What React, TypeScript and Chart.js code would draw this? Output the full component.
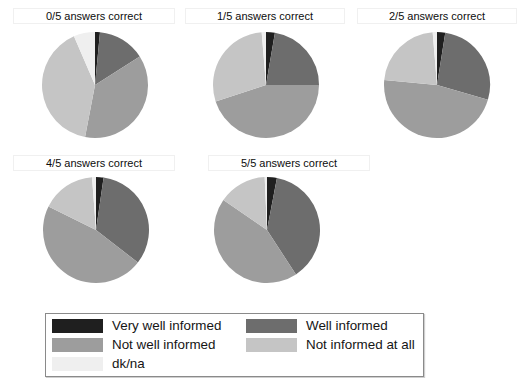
import React, { useEffect, useRef } from "react";
import { Chart, registerables } from "chart.js";

Chart.register(...registerables);

// Answer categories (legend order = slice order, clockwise from 12 o'clock)
const categories = [
  "Very well informed",
  "Well informed",
  "Not well informed",
  "Not informed at all",
  "dk/na",
];

const sliceColors = ["#1f1f1f", "#6d6d6d", "#9d9d9d", "#c5c5c5", "#efefef"];

// Shares (%) per group of correct answers
const titles = [
  "0/5 answers correct",
  "1/5 answers correct",
  "2/5 answers correct",
  "4/5 answers correct",
  "5/5 answers correct",
];
const correct0 = [1.5, 14.5, 37, 40.5, 6.5];
const correct1 = [2.7, 22.3, 45, 28.7, 1.3];
const correct2 = [2.5, 27, 47, 22.2, 1.3];
const correct4 = [2.3, 33.2, 46.8, 16.5, 1.2];
const correct5 = [3, 37.8, 43.8, 14.7, 0.7];
const groups = [correct0, correct1, correct2, correct4, correct5];

const FONT = '"Liberation Sans", Arial, sans-serif';

// Placement of each panel: pie centre and title box span
const panels = [
  { cx: 95, cy: 85, boxL: 13, boxR: 175, boxT: 8 },
  { cx: 266, cy: 85, boxL: 185, boxR: 345, boxT: 8 },
  { cx: 437, cy: 85, boxL: 357, boxR: 517, boxT: 8 },
  { cx: 96, cy: 230, boxL: 13, boxR: 175, boxT: 155 },
  { cx: 267, cy: 230, boxL: 208, boxR: 370, boxT: 155 },
];

const PIE_SIZE = 108;

function Pie({ values }: { values: number[] }) {
  const ref = useRef<HTMLCanvasElement | null>(null);
  useEffect(() => {
    if (!ref.current) return;
    const chart = new Chart(ref.current, {
      type: "pie",
      data: {
        labels: categories,
        datasets: [
          {
            data: values,
            backgroundColor: sliceColors,
            borderWidth: 0,
          },
        ],
      },
      options: {
        animation: false,
        responsive: false,
        maintainAspectRatio: false,
        layout: { padding: 1 },
        plugins: {
          legend: { display: false },
          tooltip: { enabled: false },
        },
      },
    });
    return () => chart.destroy();
  }, [values]);
  return <canvas ref={ref} width={PIE_SIZE} height={PIE_SIZE} />;
}

export default function App() {
  return (
    <div
      style={{
        position: "fixed",
        left: 0,
        top: 0,
        width: 518,
        height: 378,
        background: "#ffffff",
        fontFamily: FONT,
        overflow: "hidden",
      }}
    >
      {panels.map((p, i) => (
        <React.Fragment key={titles[i]}>
          <div
            style={{
              position: "absolute",
              left: p.boxL,
              top: p.boxT,
              width: p.boxR - p.boxL,
              height: 16,
              boxSizing: "border-box",
              border: "1px solid #f0f0f0",
              textAlign: "center",
              fontSize: 11,
              lineHeight: "14px",
              color: "#0d0d0d",
            }}
          >
            {titles[i]}
          </div>
          <div
            style={{
              position: "absolute",
              left: p.cx - PIE_SIZE / 2,
              top: p.cy - PIE_SIZE / 2,
              width: PIE_SIZE,
              height: PIE_SIZE,
            }}
          >
            <Pie values={groups[i]} />
          </div>
        </React.Fragment>
      ))}

      {/* Shared legend */}
      <div
        style={{
          position: "absolute",
          left: 45,
          top: 313,
          width: 379,
          height: 64,
          boxSizing: "border-box",
          border: "1px solid #8a8a8a",
          boxShadow: "1px 1px 1px #cfcfcf",
        }}
      >
        {categories.map((c, i) => {
          const col = i % 2;
          const row = Math.floor(i / 2);
          return (
            <div
              key={c}
              style={{
                position: "absolute",
                left: col === 0 ? 6 : 200,
                top: 4 + row * 19,
                height: 15,
                display: "flex",
                alignItems: "center",
                whiteSpace: "nowrap",
              }}
            >
              <span
                style={{
                  display: "inline-block",
                  width: 51,
                  height: 14,
                  background: sliceColors[i],
                  marginRight: 9,
                }}
              />
              <span style={{ fontSize: 13.4, color: "#151515" }}>{c}</span>
            </div>
          );
        })}
      </div>
    </div>
  );
}
